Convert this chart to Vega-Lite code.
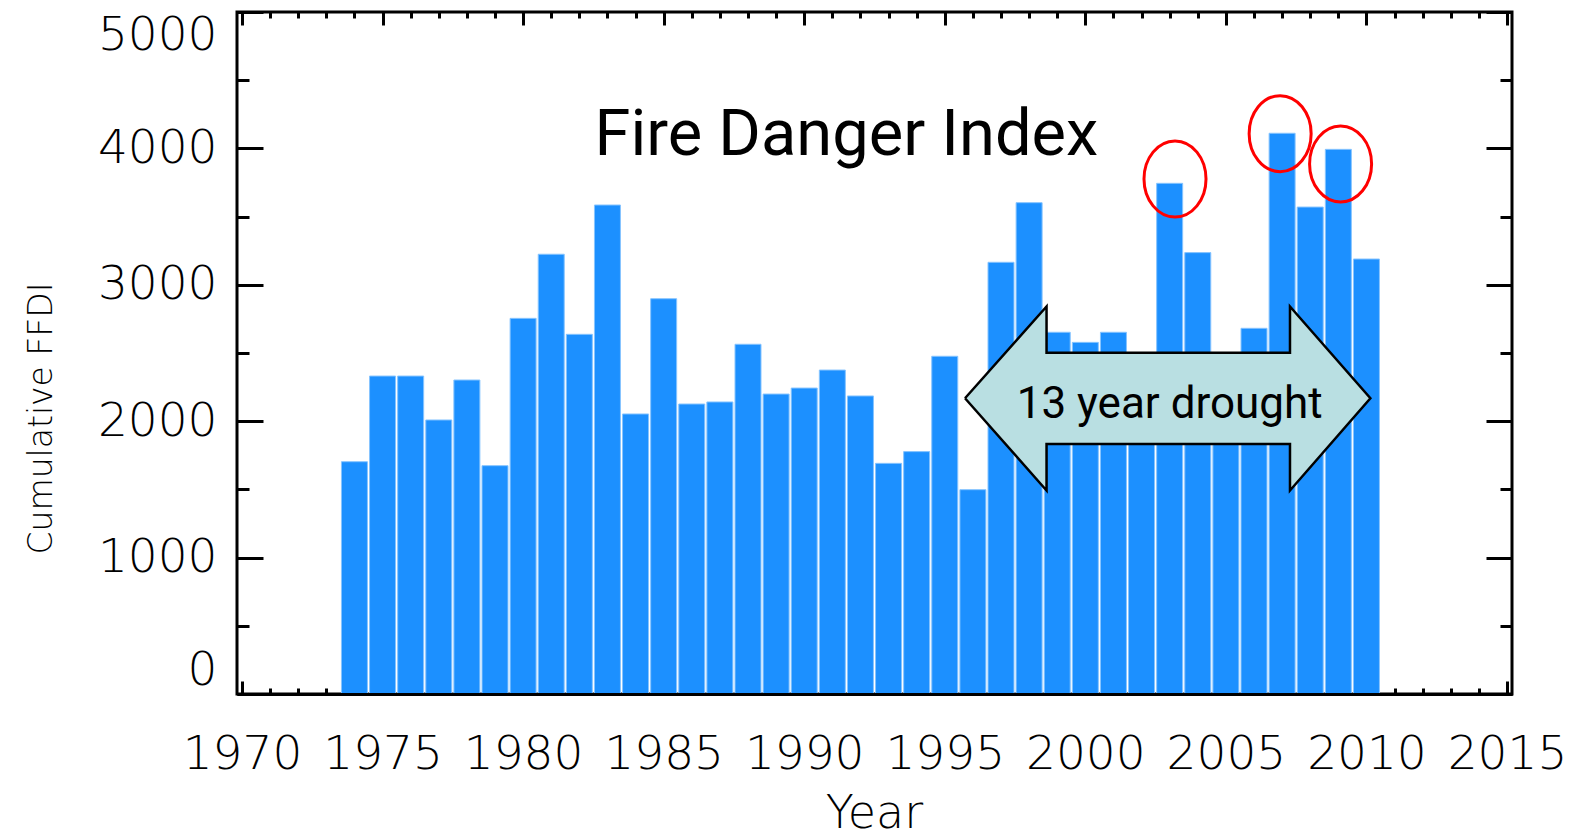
{
  "$schema": "https://vega.github.io/schema/vega-lite/v6.json",
  "width": 1275,
  "height": 682,
  "autosize": "none",
  "padding": {"left": 237, "top": 12, "right": 69, "bottom": 144},
  "background": "white",
  "config": {
    "view": {"stroke": "black", "strokeWidth": 3},
    "axis": {
      "grid": false,
      "domain": false,
      "tickColor": "black",
      "tickWidth": 3,
      "labelColor": "black",
      "titleColor": "black",
      "labelFont": "DejaVu Sans",
      "titleFont": "DejaVu Sans",
      "labelFontWeight": 200,
      "titleFontWeight": 200,
      "labelFontSize": 47,
      "titleFontSize": 46,
      "labelOverlap": false
    }
  },
  "datasets": {
    "bars": [
      {"year": 1974, "ffdi": 1703}, {"year": 1975, "ffdi": 2331}, {"year": 1976, "ffdi": 2331},
      {"year": 1977, "ffdi": 2009}, {"year": 1978, "ffdi": 2302}, {"year": 1979, "ffdi": 1674},
      {"year": 1980, "ffdi": 2754}, {"year": 1981, "ffdi": 3224}, {"year": 1982, "ffdi": 2637},
      {"year": 1983, "ffdi": 3585}, {"year": 1984, "ffdi": 2053}, {"year": 1985, "ffdi": 2898},
      {"year": 1986, "ffdi": 2126}, {"year": 1987, "ffdi": 2141}, {"year": 1988, "ffdi": 2564},
      {"year": 1989, "ffdi": 2199}, {"year": 1990, "ffdi": 2243}, {"year": 1991, "ffdi": 2375},
      {"year": 1992, "ffdi": 2185}, {"year": 1993, "ffdi": 1691}, {"year": 1994, "ffdi": 1777},
      {"year": 1995, "ffdi": 2476}, {"year": 1996, "ffdi": 1498}, {"year": 1997, "ffdi": 3165},
      {"year": 1998, "ffdi": 3602}, {"year": 1999, "ffdi": 2652}, {"year": 2000, "ffdi": 2578},
      {"year": 2001, "ffdi": 2652}, {"year": 2002, "ffdi": 2300}, {"year": 2003, "ffdi": 3744},
      {"year": 2004, "ffdi": 3236}, {"year": 2005, "ffdi": 2200}, {"year": 2006, "ffdi": 2681},
      {"year": 2007, "ffdi": 4111}, {"year": 2008, "ffdi": 3570}, {"year": 2009, "ffdi": 3993},
      {"year": 2010, "ffdi": 3189}
    ],
    "circles": [
      {"year": 2003.19, "ffdi": 3776},
      {"year": 2006.93, "ffdi": 4108},
      {"year": 2009.08, "ffdi": 3886}
    ],
    "arrow": [
      {"ord": 1, "year": 1995.72, "ffdi": 2168},
      {"ord": 2, "year": 1998.62, "ffdi": 2841},
      {"ord": 3, "year": 1998.62, "ffdi": 2502},
      {"ord": 4, "year": 2007.28, "ffdi": 2502},
      {"ord": 5, "year": 2007.28, "ffdi": 2841},
      {"ord": 6, "year": 2010.14, "ffdi": 2168},
      {"ord": 7, "year": 2007.28, "ffdi": 1492},
      {"ord": 8, "year": 2007.28, "ffdi": 1833},
      {"ord": 9, "year": 1998.62, "ffdi": 1833},
      {"ord": 10, "year": 1998.62, "ffdi": 1492},
      {"ord": 11, "year": 1995.72, "ffdi": 2168}
    ],
    "drought": [{"year": 2003.0, "ffdi": 2023, "label": "13 year drought"}],
    "title": [{"year": 1991.5, "ffdi": 3955, "label": "Fire Danger Index"}]
  },
  "resolve": {"axis": {"x": "independent", "y": "independent"}},
  "layer": [
    {
      "data": {"name": "bars"},
      "mark": {"type": "bar", "orient": "vertical", "width": 26, "color": "#1c90ff", "stroke": "#86c4ff", "strokeWidth": 1},
      "encoding": {
        "x": {
          "field": "year", "type": "quantitative",
          "scale": {"domain": [1970, 2015], "nice": false, "zero": false},
          "axis": {
            "orient": "bottom", "values": [1970, 1975, 1980, 1985, 1990, 1995, 2000, 2005, 2010, 2015],
            "format": "d", "tickSize": -13, "labelPadding": 87, "labelBaseline": "alphabetic",
            "labelFlush": false, "title": "Year", "titleX": 637, "titleY": 133,
            "titleBaseline": "alphabetic", "titleAnchor": null, "titleAlign": "center"
          }
        },
        "y": {
          "field": "ffdi", "type": "quantitative",
          "scale": {"domain": [0, 5000], "nice": false},
          "axis": {
            "orient": "left", "values": [0, 1000, 2000, 3000, 4000, 5000], "format": "d",
            "tickSize": -26, "labelPadding": 46, "labelFlush": true,
            "title": "Cumulative FFDI", "titleFontSize": 33, "titleX": -186, "titleY": 406, "titleAngle": -90,
            "titleBaseline": "alphabetic", "titleAlign": "center", "titleAnchor": null
          }
        }
      }
    },
    {
      "data": {"name": "circles"},
      "mark": {
        "type": "point", "filled": false, "stroke": "#ff0000", "strokeWidth": 3, "opacity": 1,
        "shape": "M 0.816 0 A 0.816 1 0 1 1 -0.816 0 A 0.816 1 0 1 1 0.816 0 Z",
        "size": 5776
      },
      "encoding": {
        "x": {
          "field": "year", "type": "quantitative",
          "axis": {"orient": "top", "values": [1970, 1975, 1980, 1985, 1990, 1995, 2000, 2005, 2010, 2015], "tickSize": -13, "labels": false, "title": null}
        },
        "y": {
          "field": "ffdi", "type": "quantitative",
          "axis": {"orient": "right", "values": [0, 1000, 2000, 3000, 4000, 5000], "tickSize": -26, "labels": false, "title": null}
        }
      }
    },
    {
      "data": {"name": "arrow"},
      "mark": {"type": "line", "fill": "#b9dfe2", "stroke": "black", "strokeWidth": 2.5, "strokeJoin": "miter"},
      "encoding": {
        "x": {
          "field": "year", "type": "quantitative",
          "axis": {"orient": "bottom", "values": [1971, 1972, 1973, 1974, 1976, 1977, 1978, 1979, 1981, 1982, 1983, 1984, 1986, 1987, 1988, 1989, 1991, 1992, 1993, 1994, 1996, 1997, 1998, 1999, 2001, 2002, 2003, 2004, 2006, 2007, 2008, 2009, 2011, 2012, 2013, 2014], "tickSize": -6, "labels": false, "title": null}
        },
        "y": {
          "field": "ffdi", "type": "quantitative",
          "axis": {"orient": "left", "values": [500, 1500, 2500, 3500, 4500], "tickSize": -12, "labels": false, "title": null}
        },
        "order": {"field": "ord", "type": "quantitative"}
      }
    },
    {
      "data": {"name": "drought"},
      "mark": {"type": "text", "font": "Roboto", "fontSize": 44, "align": "center", "baseline": "alphabetic", "color": "black"},
      "encoding": {
        "x": {
          "field": "year", "type": "quantitative",
          "axis": {"orient": "top", "values": [1971, 1972, 1973, 1974, 1976, 1977, 1978, 1979, 1981, 1982, 1983, 1984, 1986, 1987, 1988, 1989, 1991, 1992, 1993, 1994, 1996, 1997, 1998, 1999, 2001, 2002, 2003, 2004, 2006, 2007, 2008, 2009, 2011, 2012, 2013, 2014], "tickSize": -6, "labels": false, "title": null}
        },
        "y": {
          "field": "ffdi", "type": "quantitative",
          "axis": {"orient": "right", "values": [500, 1500, 2500, 3500, 4500], "tickSize": -12, "labels": false, "title": null}
        },
        "text": {"field": "label"}
      }
    },
    {
      "data": {"name": "title"},
      "mark": {"type": "text", "font": "Roboto", "fontSize": 65, "align": "center", "baseline": "alphabetic", "color": "black"},
      "encoding": {
        "x": {
          "field": "year", "type": "quantitative",
          "axis": {"orient": "bottom", "domain": true, "domainColor": "black", "domainWidth": 3, "ticks": false, "labels": false, "title": null, "zindex": 1}
        },
        "y": {"field": "ffdi", "type": "quantitative", "axis": null},
        "text": {"field": "label"}
      }
    }
  ]
}
